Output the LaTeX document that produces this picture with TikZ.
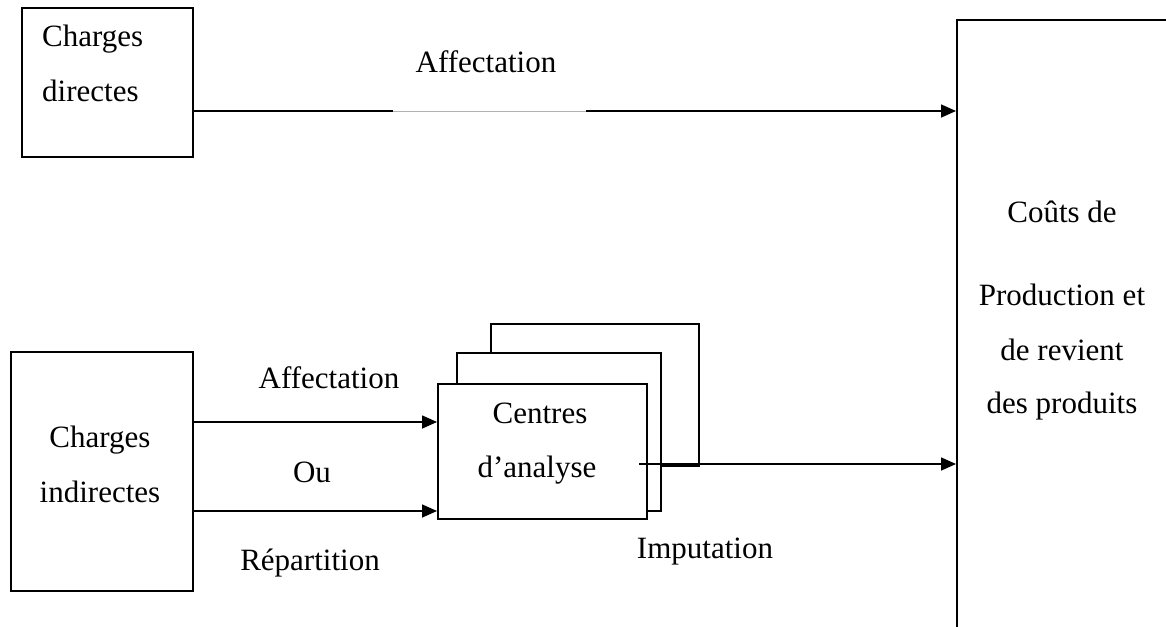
\documentclass[tikz,border=0pt]{standalone}
\usepackage{fontspec}
\setmainfont{Liberation Serif}
\usetikzlibrary{arrows.meta}

\begin{document}
\begin{tikzpicture}[x=1pt,y=-1pt,>={Triangle[length=15pt,width=13pt]},
  box/.style={draw,line width=1.6pt,inner sep=0pt},
  lbl/.style={anchor=base,inner sep=0pt,font=\fontsize{31}{37}\selectfont},
  arr/.style={->,line width=1.6pt}]
  \useasboundingbox (0,0) rectangle (1166,626);
  \clip (0,0) rectangle (1166,626);
  % boxes
  \node[box,anchor=north west,minimum width=171pt,minimum height=149pt] (directes) at (21,7) {};
  \node[box,anchor=north west,minimum width=182pt,minimum height=239pt] (indirectes) at (10,351) {};
  \node[box,anchor=north west,minimum width=240pt,minimum height=640pt] (couts) at (956,19) {};
  % centres d'analyse (stacked)
  \node[box,fill=white,anchor=north west,minimum width=208pt,minimum height=142pt] (back) at (490,323) {};
  \node[box,fill=white,anchor=north west,minimum width=204pt,minimum height=158pt] (middle) at (456,352) {};
  \node[box,fill=white,anchor=north west,minimum width=209pt,minimum height=135pt] (front) at (437,383) {};
  % texts
  \node[lbl,anchor=base west] (dir1) at (42,47) {Charges};
  \node[lbl,anchor=base west] (dir2) at (42,101) {directes};
  \node[lbl] (ind1) at (100,447) {Charges};
  \node[lbl] (ind2) at (100,502) {indirectes};
  \node[lbl] (cen1) at (540,423) {Centres};
  \node[lbl] (cen2) at (537,477) {d’analyse};
  \foreach \y/\t [count=\i] in {222/Coûts de,305/Production et,360/de revient,413/des produits}
    \node[lbl] (couts\i) at (1062,\y) {\t};
  % arrow labels
  \node[lbl] (afftop) at (486,72) {Affectation};
  \node[lbl] (affbot) at (329,388) {Affectation};
  \node[lbl] (ou) at (312,482) {Ou};
  \node[lbl] (rep) at (310,570) {Répartition};
  \node[lbl] (imp) at (705,558) {Imputation};
  % connectors
  \coordinate (topin) at (956,111);
  \coordinate (gapl) at (393,111);
  \coordinate (gapr) at (586,111);
  \draw[line width=1.6pt] (directes.east |- topin) -- (gapl);
  \draw[gray!60,line width=0.8pt] (gapl) -- (gapr);
  \draw[arr] (gapr) -- (topin);
  \coordinate (affin) at (437,422);
  \coordinate (repin) at (437,511);
  \coordinate (repl) at (273,511);
  \coordinate (repr) at (356,511);
  \draw[arr] (indirectes.east |- affin) -- (affin);
  \draw[line width=1.6pt] (indirectes.east |- repin) -- (repl);
  \draw[line width=1.1pt] (repl) -- (repr);
  \draw[arr] (repr) -- (repin);
  \coordinate (impout) at (639,464);
  \draw[arr] (impout) -- (couts.west |- impout);
\end{tikzpicture}
\end{document}
